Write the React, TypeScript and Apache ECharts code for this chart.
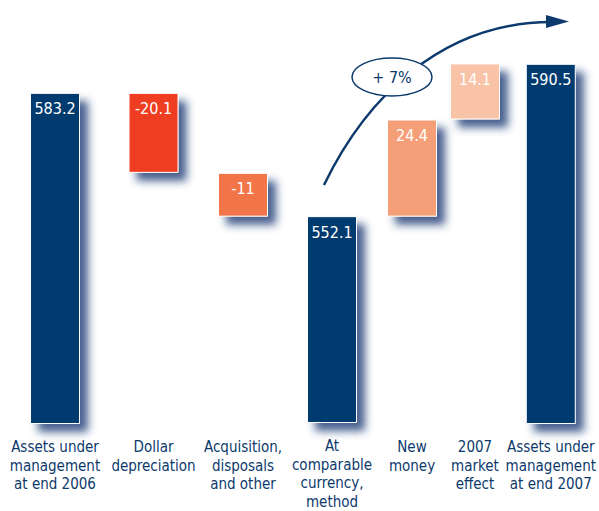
import React, { useEffect, useRef } from "react";
import * as echarts from "echarts";

// ---- data ----
const categories = [
  "Assets under\nmanagement\nat end 2006",
  "Dollar\ndepreciation",
  "Acquisition,\ndisposals\nand other",
  "At\ncomparable\ncurrency,\nmethod",
  "New\nmoney",
  "2007\nmarket\neffect",
  "Assets under\nmanagement\nat end 2007",
];
const values = [583.2, -20.1, -11, 552.1, 24.4, 14.1, 590.5];
const isTotal = [true, false, false, true, false, false, true];
const valueLabels = ["583.2", "-20.1", "-11", "552.1", "24.4", "14.1", "590.5"];
const growthLabel = "+ 7%";

// ---- layout & styles ----
const columnCenters = [55, 153.5, 243, 332, 412, 475, 554]; // pixel centre of each column (layout)
const BAR_W = 50;
const barColors = ["#003b6f", "#ef3e23", "#f2744a", "#003b6f", "#f59f79", "#f9c3a8", "#003b6f"];
const NAVY = "#0d3a6c";
const FONT = "'DejaVu Sans Condensed', 'Liberation Sans Narrow', sans-serif";
const AXIS_MIN = 500;
const AXIS_MAX = 600;
const GRID_TOP = 26;
const GRID_BOTTOM = 87;

export default function App() {
  const ref = useRef<HTMLDivElement>(null);

  useEffect(() => {
    if (!ref.current) return;
    const chart = echarts.init(ref.current, undefined, { renderer: "svg" });

    const baseData: number[] = [];
    const visData: number[] = [];
    let running = 0;
    values.forEach((v, i) => {
      if (isTotal[i]) {
        baseData.push(AXIS_MIN);
        visData.push(v - AXIS_MIN);
        running = v;
      } else {
        const end = running + v;
        baseData.push(Math.min(running, end));
        visData.push(Math.abs(v));
        running = end;
      }
    });

    const grids: any[] = [];
    const xAxes: any[] = [];
    const yAxes: any[] = [];
    const series: any[] = [];

    categories.forEach((cat, i) => {
      grids.push({
        left: columnCenters[i] - BAR_W / 2,
        width: BAR_W,
        top: GRID_TOP,
        bottom: GRID_BOTTOM,
        containLabel: false,
      });
      xAxes.push({
        type: "category",
        gridIndex: i,
        data: [cat],
        axisLine: { show: false },
        axisTick: { show: false },
        axisLabel: {
          interval: 0,
          margin: 14,
          color: NAVY,
          fontFamily: FONT,
          fontSize: 15,
          lineHeight: 18.5,
          verticalAlign: "top",
          hideOverlap: false,
        },
      });
      yAxes.push({
        type: "value",
        gridIndex: i,
        min: AXIS_MIN,
        max: AXIS_MAX,
        show: false,
        splitLine: { show: false },
      });
      series.push({
        type: "bar",
        xAxisIndex: i,
        yAxisIndex: i,
        stack: "w" + i,
        data: [baseData[i]],
        barWidth: BAR_W,
        itemStyle: { color: "transparent" },
        emphasis: { disabled: true },
        silent: true,
      });
      series.push({
        type: "bar",
        xAxisIndex: i,
        yAxisIndex: i,
        stack: "w" + i,
        barWidth: BAR_W,
        clip: false,
        data: [visData[i]],
        itemStyle: {
          color: barColors[i],
          borderColor: "#ffffff",
          borderWidth: 1,
          shadowColor: "rgba(25,55,115,0.8)",
          shadowBlur: 8,
          shadowOffsetX: 8,
          shadowOffsetY: 8,
        },
        label: {
          show: true,
          position: "insideTop",
          distance: 8,
          color: "#ffffff",
          fontFamily: FONT,
          fontSize: 16,
          formatter: () => valueLabels[i],
        },
      });
    });

    chart.setOption({
      animation: false,
      backgroundColor: "#ffffff",
      grid: grids,
      xAxis: xAxes,
      yAxis: yAxes,
      series,
      graphic: [
        {
          type: "bezierCurve",
          shape: { x1: 324, y1: 185, cpx1: 365, cpy1: 100, cpx2: 440, cpy2: 22, x2: 552, y2: 22 },
          style: { stroke: NAVY, lineWidth: 2.5, fill: "none" },
          z: 50,
        },
        {
          type: "polygon",
          shape: { points: [[546, 15], [569, 21.5], [546, 28]] },
          style: { fill: NAVY },
          z: 50,
        },
        {
          type: "ellipse",
          shape: { cx: 392, cy: 77, rx: 40, ry: 19 },
          style: { fill: "#ffffff", stroke: NAVY, lineWidth: 1.5 },
          z: 60,
        },
        {
          type: "text",
          x: 392,
          y: 77,
          style: {
            text: growthLabel,
            fill: NAVY,
            font: `16px ${FONT}`,
            align: "center",
            verticalAlign: "middle",
          },
          z: 61,
        },
      ],
    });

    return () => chart.dispose();
  }, []);

  return (
    <div
      ref={ref}
      style={{ position: "absolute", left: 0, top: 0, width: 599, height: 511 }}
    />
  );
}
